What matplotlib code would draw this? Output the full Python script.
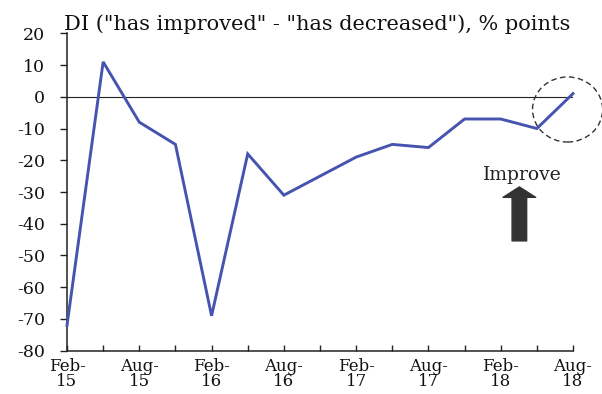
import matplotlib
matplotlib.use("Agg")
import matplotlib.pyplot as plt
from matplotlib.patches import Ellipse
from matplotlib.ticker import FixedLocator, FixedFormatter

# Quarterly survey readings, Feb-15 .. Aug-18
quarters = ["Feb-15", "May-15", "Aug-15", "Nov-15",
            "Feb-16", "May-16", "Aug-16", "Nov-16",
            "Feb-17", "May-17", "Aug-17", "Nov-17",
            "Feb-18", "May-18", "Aug-18"]
di_values = [-72, 11, -8, -15, -69, -18, -31, -25, -19, -15, -16, -7, -7, -10, 1]

y_ticks = [20, 10, 0, -10, -20, -30, -40, -50, -60, -70, -80]
title_text = 'DI ("has improved" - "has decreased"), % points'
note_text = "Improve"

FONT = ["DejaVu Serif"]
LINE_COLOR = "#4654b0"

fig = plt.figure(figsize=(6.02, 3.94), dpi=100)
ax = fig.add_axes([67 / 602, 43.3 / 394, 506 / 602, 317.4 / 394])

x = list(range(len(quarters)))
ax.plot(x, di_values, color=LINE_COLOR, lw=2.1, solid_joinstyle="miter", zorder=3,
        clip_on=False)
ax.axhline(0, color="#222222", lw=0.8, zorder=2)

ax.set_xlim(0, len(quarters) - 1)
ax.set_ylim(min(y_ticks), max(y_ticks))

# x axis: tick every quarter, label Feb/Aug only as two lines
ax.xaxis.set_major_locator(FixedLocator(x))
xlabels = [q.replace("-", "-\n") if q[:3] in ("Feb", "Aug") else "" for q in quarters]
ax.xaxis.set_major_formatter(FixedFormatter(xlabels))
ax.tick_params(axis="x", direction="in", length=4, width=1, pad=5, color="#222222")
for lab in ax.get_xticklabels():
    lab.set_fontfamily(FONT)
    lab.set_fontsize(12)
    lab.set_linespacing(0.88)
    lab.set_color("#111111")

ax.set_yticks(y_ticks)
ax.set_yticklabels([str(v) for v in y_ticks])
ax.tick_params(axis="y", direction="out", length=5, width=1, pad=11, color="#222222")
for lab in ax.get_yticklabels():
    lab.set_fontfamily(FONT)
    lab.set_fontsize(12.5)
    lab.set_color("#111111")

for side in ("top", "right"):
    ax.spines[side].set_visible(False)
for side in ("left", "bottom"):
    ax.spines[side].set_color("#222222")
    ax.spines[side].set_linewidth(1.1)

fig.text(64 / 602, 1 - 30 / 394, title_text, fontfamily=FONT, fontsize=15,
         color="#111111", ha="left", va="baseline")

# dashed circle around the latest reading
last_x, last_y = x[-1], di_values[-1]
ax.add_patch(Ellipse((last_x - 0.15, last_y - 5), width=1.94, height=20.5,
                     fill=False, ls=(0, (4, 2.5)), lw=1.0, ec="#333333",
                     clip_on=False, zorder=4))

# "Improve" note with upward arrow
ax.text(0.899, 0.553, note_text, transform=ax.transAxes, fontfamily=FONT,
        fontsize=13.5, color="#222222", ha="center", va="center")
ax.annotate("", xy=(0.894, 0.516), xytext=(0.894, 0.346),
            xycoords="axes fraction", textcoords="axes fraction",
            arrowprops=dict(arrowstyle="simple,head_length=7.5,head_width=23.5,tail_width=10.5",
                            mutation_scale=1, color="#333333", shrinkA=0, shrinkB=0))

fig.savefig("out.png", dpi=100)
